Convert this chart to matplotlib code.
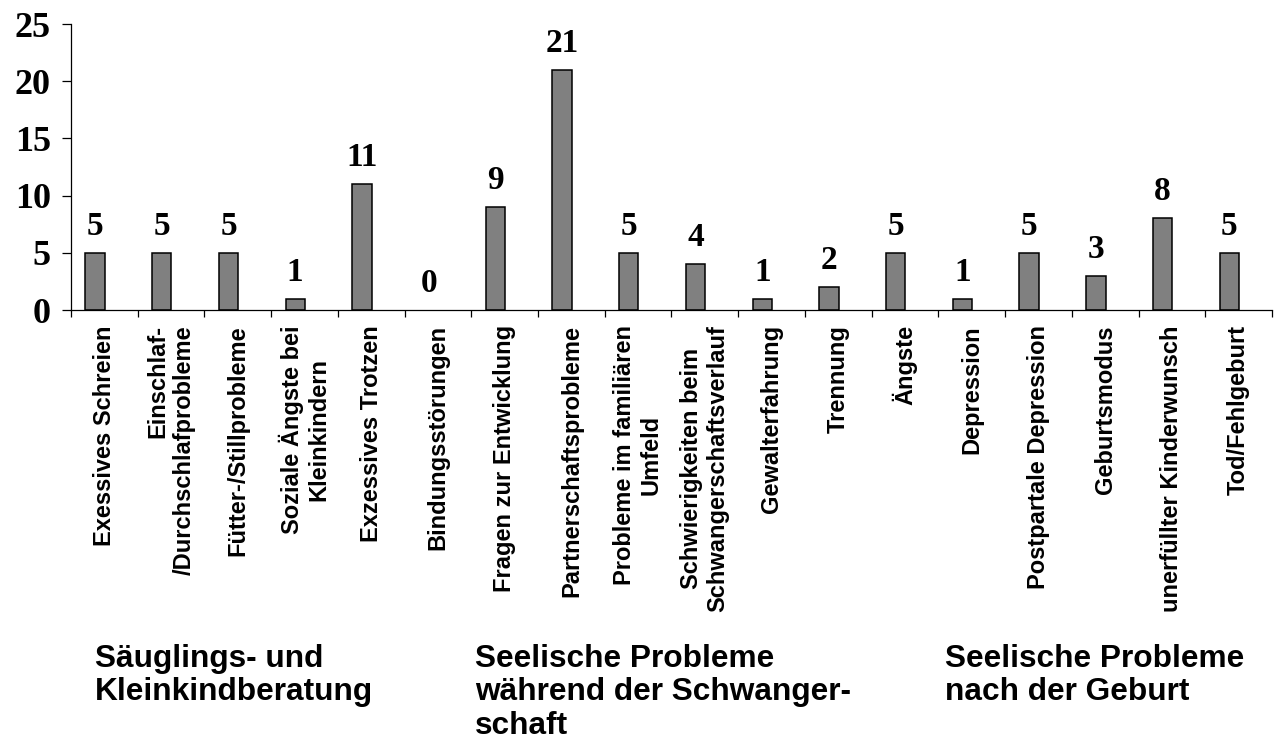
import matplotlib
matplotlib.use("Agg")
import matplotlib.pyplot as plt
import numpy as np

# Beratungsanlässe und Anzahl der Fälle
categories = [
    "Exessives Schreien",
    "Einschlaf-\n/Durchschlafprobleme",
    "Fütter-/Stillprobleme",
    "Soziale Ängste bei\nKleinkindern",
    "Exzessives Trotzen",
    "Bindungsstörungen",
    "Fragen zur Entwicklung",
    "Partnerschaftsprobleme",
    "Probleme im familiären\nUmfeld",
    "Schwierigkeiten beim\nSchwangerschaftsverlauf",
    "Gewalterfahrung",
    "Trennung",
    "Ängste",
    "Depression",
    "Postpartale Depression",
    "Geburtsmodus",
    "unerfüllter Kinderwunsch",
    "Tod/Fehlgeburt",
]
counts = [5, 5, 5, 1, 11, 0, 9, 21, 5, 4, 1, 2, 5, 1, 5, 3, 8, 5]
yticks = [0, 5, 10, 15, 20, 25]

groups = [
    "Säuglings- und\nKleinkindberatung",
    "Seelische Probleme\nwährend der Schwanger-\nschaft",
    "Seelische Probleme\nnach der Geburt",
]

serif = "Liberation Serif"
sans = "Liberation Sans"

fig = plt.figure(figsize=(12.81, 7.45), dpi=100)
ax = fig.add_axes([71 / 1281, 1 - 310 / 745, (1272 - 71) / 1281, (310 - 24) / 745])

x = np.arange(len(counts))
bars = ax.bar(x - 0.14, counts, width=0.29, color="#808080", edgecolor="black", linewidth=1.1)
# a zero-height bar would otherwise show up as a dark stroke on the axis
for b, v in zip(bars, counts):
    if v == 0:
        b.set_visible(False)

for xi, v in zip(x, counts):
    ax.annotate(str(v), (xi - 0.14, v), xytext=(0, 13), textcoords="offset points",
                ha="center", va="baseline", fontfamily=serif, fontweight="bold", fontsize=24)

ax.set_xlim(-0.5, len(counts) - 0.5)
ax.set_ylim(0, 25)

for side in ["top", "right"]:
    ax.spines[side].set_visible(False)
for side in ["left", "bottom"]:
    ax.spines[side].set_linewidth(0.9)

# y axis
ax.set_yticks(yticks)
ax.set_yticklabels([str(t) for t in yticks], fontfamily=serif, fontweight="bold", fontsize=26)
ax.tick_params(axis="y", direction="out", length=6.5, width=0.9, pad=8)

# x axis: ticks between categories, labels at centers
ax.set_xticks(np.arange(len(counts) + 1) - 0.5)
ax.set_xticklabels([])
ax.tick_params(axis="x", which="major", direction="out", length=5, width=0.9)
ax.set_xticks(x, minor=True)
ax.set_xticklabels(categories, minor=True, rotation=90, fontfamily=sans,
                   fontweight="bold", fontsize=17)
ax.tick_params(axis="x", which="minor", length=0, pad=11)
for i, lbl in enumerate(ax.get_xticklabels(minor=True)):
    lbl.set_multialignment("right" if i == 1 else "center")

# group headings below the chart
group_x = [95, 475, 945]
for gx, txt in zip(group_x, groups):
    fig.text(gx / 1281, 1 - 644 / 745, txt, ha="left", va="top", fontfamily=sans,
             fontweight="bold", fontsize=22.8, linespacing=1.15)

fig.savefig("out.png", dpi=100)
